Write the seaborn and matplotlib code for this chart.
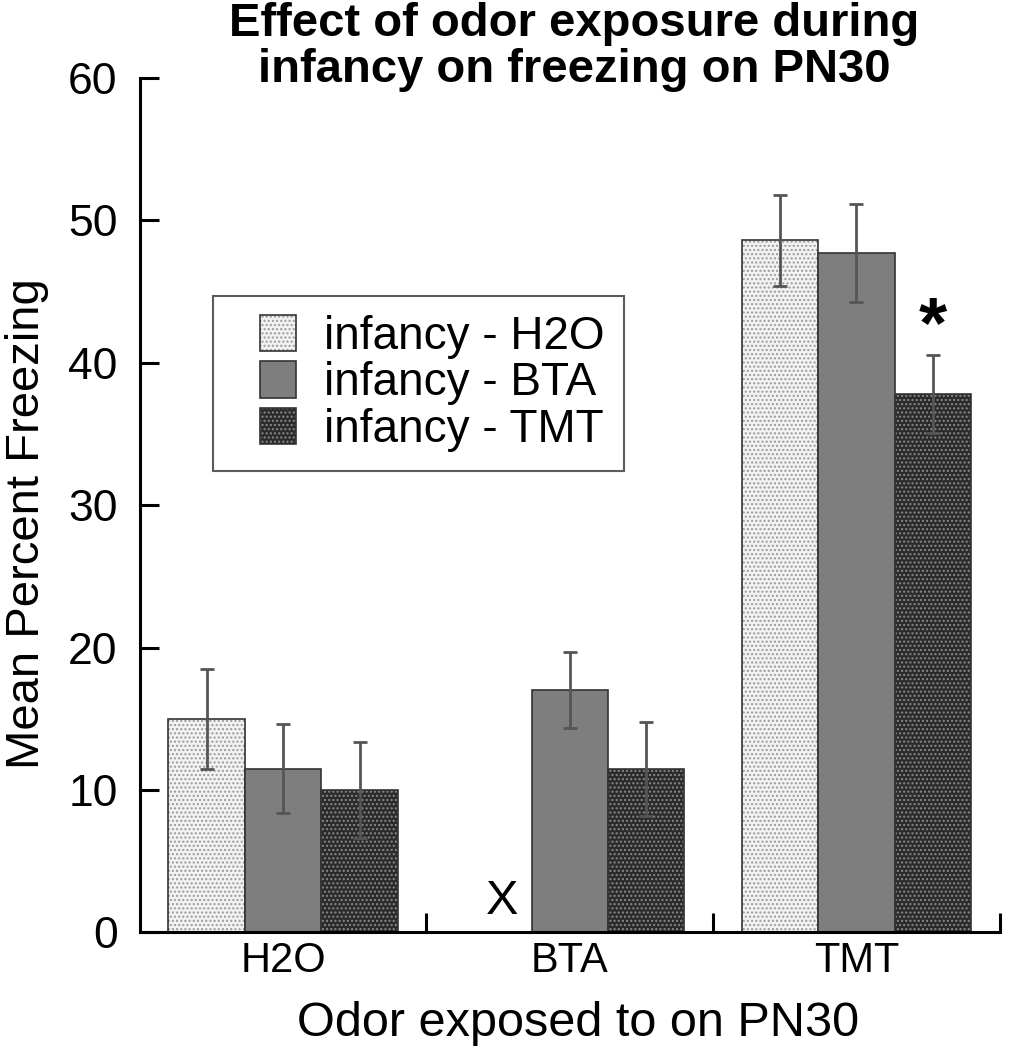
import numpy as np
import pandas as pd
import seaborn as sns
import matplotlib.pyplot as plt
from matplotlib.colors import to_rgba
from matplotlib.patches import Rectangle
from matplotlib.legend_handler import HandlerPatch

# odor on PN30 (x categories) and infancy exposure (hue)
odors = ['H2O', 'BTA', 'TMT']
infancy = ['infancy - H2O', 'infancy - BTA', 'infancy - TMT']

# mean percent freezing per infancy group, one value per PN30 odor
inf_h2o = [15.0, np.nan, 48.6]
inf_bta = [11.5, 17.0, 47.7]
inf_tmt = [10.0, 11.5, 37.8]

# error bar half-lengths
err_h2o = [3.5, np.nan, 3.2]
err_bta = [3.1, 2.65, 3.45]
err_tmt = [3.35, 3.3, 2.75]

fills = ['#f2f2f2', '#7e7e7e', '#2b2b2b']
hatch_cols = ['#9a9a9a', '#747474', '#8a8a8a']
hatches = ['....', '', '....']

sns.set_style('white')
plt.rcParams['font.family'] = ['Liberation Sans', 'DejaVu Sans']
plt.rcParams['hatch.linewidth'] = 1.0
for k in ['text.color', 'axes.labelcolor', 'xtick.color', 'ytick.color']:
    plt.rcParams[k] = 'black'

df = pd.DataFrame({
    'odor': odors * 3,
    'group': [g for g in infancy for _ in odors],
    'freezing': inf_h2o + inf_bta + inf_tmt,
    'err': err_h2o + err_bta + err_tmt,
})

fig = plt.figure(figsize=(10.13, 10.5), dpi=100)
ax = fig.add_axes([0.138, 0.112, 0.849, 0.814])

sns.barplot(data=df, x='odor', y='freezing', hue='group', order=odors,
            hue_order=infancy, palette=fills, width=0.8, errorbar=None,
            edgecolor='#333333', linewidth=1.2, ax=ax, saturation=1)

bar_groups = list(ax.containers)

# style each bar and draw its error bar (NaN rows have no bar)
for gi, cont in enumerate(bar_groups):
    sub = df[df['group'] == infancy[gi]].set_index('odor').loc[odors]
    sub = sub.dropna(subset=['freezing'])
    for bar, (_, row) in zip(cont, sub.iterrows()):
        bar.set_hatch(hatches[gi])
        bar._hatch_color = to_rgba(hatch_cols[gi])
        xc = bar.get_x() + bar.get_width() / 2
        ax.errorbar(xc, row['freezing'], yerr=row['err'], fmt='none',
                    ecolor='#555555', elinewidth=2, capsize=5, capthick=2,
                    zorder=5)

# missing bar and significance mark
nb = bar_groups[1][1]
ax.text(nb.get_x() - nb.get_width() * 0.38, 0.6, 'X',
        ha='center', va='bottom', fontsize=35)
tmt_bar = bar_groups[2][2]
ax.text(tmt_bar.get_x() + tmt_bar.get_width() / 2,
        inf_tmt[2] + err_tmt[2] + 1.9, '*', ha='center', va='center',
        fontsize=52, fontweight='bold')

ax.set_xlim(-0.5, 2.5)
ax.set_ylim(0, 60)
ax.set_yticks(range(0, 61, 10))
ax.set_xticks([0.5, 1.5, 2.5])
ax.set_xticklabels([])
ax.set_xticks([0, 1, 2], minor=True)
ax.set_xticklabels(odors, minor=True)
ax.tick_params(axis='x', which='minor', bottom=True, length=0, labelsize=30, pad=6)
ax.tick_params(axis='x', which='major', bottom=True, direction='in', length=14, width=2.2)
ax.tick_params(axis='y', left=True, direction='in', length=14, width=2.2,
               labelsize=32, pad=16)

sns.despine(ax=ax)
for s in ['left', 'bottom']:
    ax.spines[s].set_linewidth(2.2)
    ax.spines[s].set_color('black')

ax.set_xlabel('Odor exposed to on PN30', fontsize=35, labelpad=12)
ax.set_ylabel('Mean Percent Freezing', fontsize=34)
ax.xaxis.set_label_coords(0.51, -0.08)
ax.yaxis.set_label_coords(-0.105, 0.478)


def right_square(legend, orig_handle, xdescent, ydescent, width, height, fontsize):
    # square sitting at the right end of the handle box, leaving a wider left margin
    return Rectangle((width - height - xdescent, -ydescent), height, height)


leg = ax.legend(loc='upper left', bbox_to_anchor=(0.085, 0.745), fontsize=33,
                frameon=True, fancybox=False, edgecolor='#333333',
                handlelength=1.4, handleheight=0.85, handletextpad=0.6,
                borderpad=0.42, labelspacing=0.05, borderaxespad=0,
                handler_map={Rectangle: HandlerPatch(patch_func=right_square)})
leg.get_frame().set_linewidth(1.5)
for h, hc, ht in zip(leg.legend_handles, hatch_cols, hatches):
    h.set_hatch(ht)
    h._hatch_color = to_rgba(hc)

fig.text(0.567, 0.998, 'Effect of odor exposure during\ninfancy on freezing on PN30',
         ha='center', va='top', fontsize=34, fontweight='bold', linespacing=1.05)

fig.savefig('out.png', dpi=100)
